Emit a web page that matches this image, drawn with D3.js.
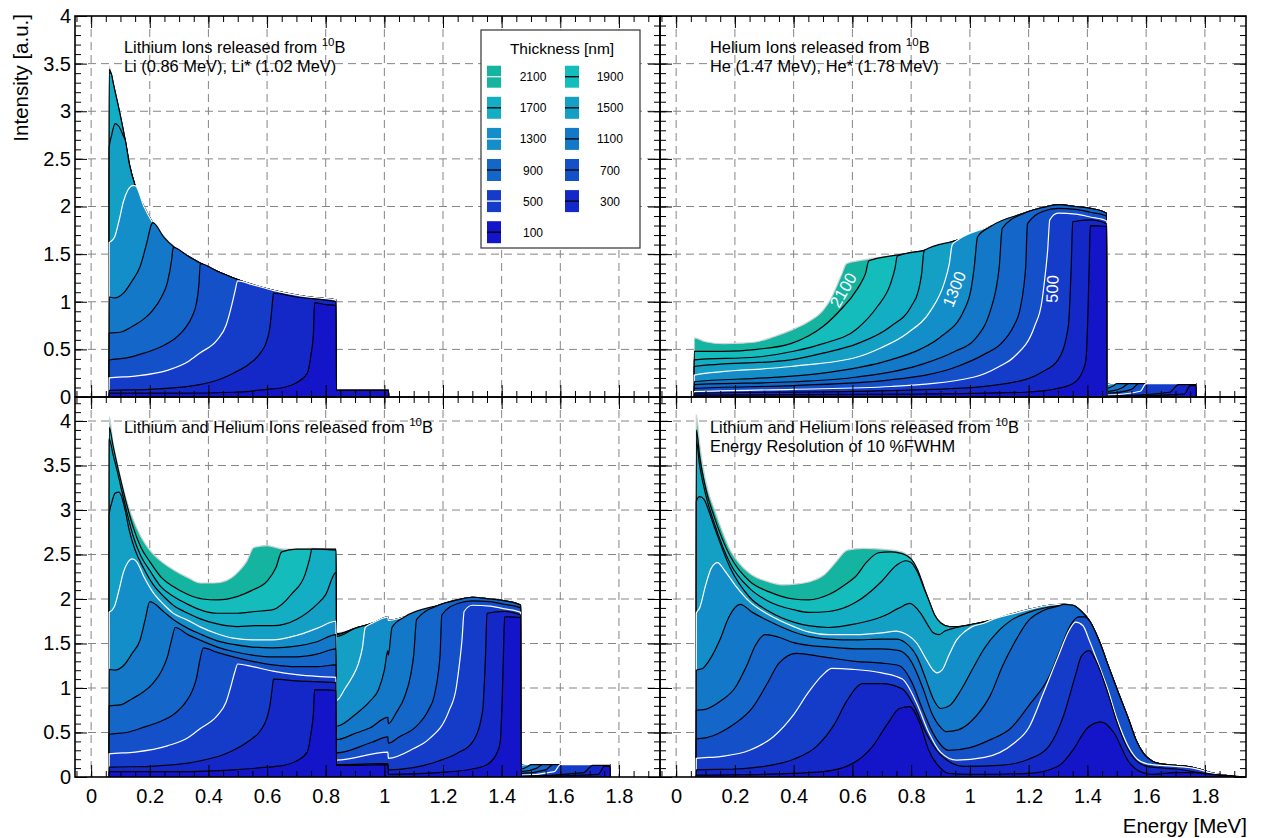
<!DOCTYPE html>
<html><head><meta charset="utf-8">
<script src="https://cdn.jsdelivr.net/npm/d3@7"></script>
<style>body{margin:0;background:#fff}svg{display:block}text{font-family:"Liberation Sans",Arial,Helvetica,sans-serif}</style>
</head><body><svg id="c" width="1264" height="838"></svg>
<script>
// ---------- categories / ticks ----------
const thickness = [2100,1900,1700,1500,1300,1100,900,700,500,300,100];
const fillColors = ["#14b4a0","#14bcbc","#14aec4","#149fc4","#148ec8","#1478c8","#1466c8","#1450c8","#143cc8","#1428c8","#1414c8"];
const lineColors = ["#d2d2d2","#000","#000","#000","#fff","#000","#000","#000","#fff","#000","#000"];
const xTicks = [0,0.2,0.4,0.6,0.8,1,1.2,1.4,1.6,1.8];
const yTicks = [0,0.5,1,1.5,2,2.5,3,3.5,4];

// ---------- Panel 1: Lithium ions ----------
const liEnvelope = [[0.0615,3.47],[0.068,3.40],[0.075,3.30],[0.088,3.12],[0.10,2.95],[0.116,2.70],[0.13,2.45],[0.15,2.22],[0.18,2.0],[0.21,1.83],[0.25,1.67],[0.28,1.58],[0.33,1.48],[0.37,1.41],[0.43,1.32],[0.485,1.25],[0.55,1.18],[0.62,1.12],[0.7,1.07],[0.77,1.04],[0.835,1.02]];
const liRise = [
 [],
 [[0.0615,3.44]],
 [[0.0615,3.40]],
 [[0.0615,2.62],[0.07,2.75],[0.082,2.87],[0.095,2.84],[0.11,2.74]],
 [[0.0615,1.62],[0.07,1.64],[0.08,1.68],[0.095,1.85],[0.11,2.05],[0.125,2.17],[0.143,2.22]],
 [[0.0615,1.05],[0.08,1.04],[0.11,1.09],[0.14,1.22],[0.167,1.37],[0.19,1.62],[0.207,1.82]],
 [[0.0615,0.67],[0.1,0.68],[0.14,0.74],[0.18,0.82],[0.21,0.91],[0.24,1.05],[0.26,1.2],[0.275,1.45],[0.28,1.57]],
 [[0.0615,0.39],[0.12,0.41],[0.18,0.46],[0.24,0.53],[0.28,0.6],[0.32,0.72],[0.345,0.85],[0.36,1.0],[0.368,1.2],[0.372,1.4]],
 [[0.0615,0.2],[0.15,0.22],[0.26,0.28],[0.33,0.37],[0.37,0.46],[0.43,0.6],[0.46,0.75],[0.475,0.91],[0.49,1.1],[0.5,1.22]],
 [[0.0615,0.07],[0.2,0.08],[0.37,0.13],[0.45,0.2],[0.485,0.25],[0.54,0.35],[0.577,0.46],[0.6,0.6],[0.61,0.74],[0.617,0.95],[0.622,1.09],[0.7,1.05],[0.835,1.0]],
 [[0.0615,0.04],[0.3,0.04],[0.485,0.05],[0.6,0.08],[0.655,0.1],[0.7,0.15],[0.737,0.25],[0.75,0.45],[0.758,0.67],[0.762,0.99],[0.8,0.97],[0.835,0.96]]
];
const liStar = [[0.8365,0.07],[1.014,0.07]];

// ---------- Panel 2: Helium ions ----------
const heEnvelope = [[0.0615,0.62],[0.1,0.58],[0.16,0.56],[0.22,0.565],[0.275,0.58],[0.33,0.63],[0.39,0.70],[0.45,0.79],[0.5,0.91],[0.53,1.05],[0.55,1.19],[0.565,1.3],[0.58,1.40],[0.64,1.44],[0.75,1.49],[0.845,1.54],[0.96,1.65],[1.07,1.79],[1.185,1.93],[1.25,1.99],[1.30,2.02],[1.36,2.0],[1.41,1.98],[1.465,1.93]];
const heRise = [
 [],
 [[0.0615,0.48],[0.16,0.48],[0.275,0.50],[0.39,0.56],[0.45,0.64],[0.5,0.74],[0.57,0.95],[0.6,1.06],[0.628,1.19],[0.645,1.3],[0.656,1.43]],
 [[0.0615,0.39],[0.275,0.42],[0.4,0.48],[0.5,0.56],[0.617,0.72],[0.685,0.95],[0.73,1.19],[0.745,1.35],[0.753,1.48]],
 [[0.0615,0.32],[0.39,0.39],[0.5,0.46],[0.617,0.56],[0.73,0.74],[0.8,0.95],[0.825,1.12],[0.836,1.3],[0.843,1.52]],
 [[0.0615,0.23],[0.39,0.32],[0.617,0.42],[0.7,0.52],[0.787,0.67],[0.867,0.91],[0.912,1.19],[0.93,1.4],[0.94,1.60]],
 [[0.0615,0.16],[0.3,0.2],[0.5,0.25],[0.73,0.39],[0.83,0.5],[0.9,0.63],[0.98,0.91],[1.005,1.15],[1.015,1.37],[1.026,1.68]],
 [[0.0615,0.13],[0.4,0.16],[0.617,0.21],[0.844,0.35],[0.95,0.48],[1.015,0.60],[1.07,0.91],[1.09,1.15],[1.10,1.37],[1.11,1.77]],
 [[0.0615,0.09],[0.4,0.12],[0.73,0.18],[0.957,0.32],[1.05,0.45],[1.106,0.56],[1.15,0.75],[1.17,0.91],[1.185,1.2],[1.19,1.37],[1.196,1.82],[1.25,1.95],[1.30,1.98],[1.36,1.97],[1.41,1.94],[1.465,1.9]],
 [[0.0615,0.056],[0.4,0.08],[0.73,0.11],[1.015,0.21],[1.1,0.32],[1.15,0.42],[1.22,0.74],[1.245,1.0],[1.253,1.19],[1.265,1.55],[1.272,1.86],[1.30,1.93],[1.36,1.92],[1.41,1.89],[1.465,1.85]],
 [[0.0615,0.04],[0.6,0.06],[0.957,0.09],[1.185,0.18],[1.25,0.27],[1.30,0.39],[1.335,0.74],[1.345,1.37],[1.35,1.84],[1.41,1.86],[1.465,1.82]],
 [[0.0615,0.02],[0.8,0.03],[1.185,0.05],[1.3,0.09],[1.355,0.15],[1.385,0.28],[1.395,0.39],[1.402,0.9],[1.406,1.37],[1.41,1.80],[1.465,1.79]]
];
const heStar = [
 [[1.4665,0.14],[1.77,0.14]],
 [[1.4665,0.14],[1.77,0.14]],
 [[1.4665,0.14],[1.77,0.14]],
 [[1.4665,0.14],[1.77,0.14]],
 [[1.4665,0.13],[1.48,0.14],[1.77,0.14]],
 [[1.4665,0.09],[1.49,0.12],[1.5,0.14],[1.77,0.14]],
 [[1.4665,0.06],[1.52,0.1],[1.54,0.14],[1.77,0.14]],
 [[1.4665,0.04],[1.55,0.08],[1.575,0.14],[1.77,0.14]],
 [[1.4665,0.02],[1.58,0.06],[1.6,0.14],[1.77,0.14]],
 [[1.4665,0.01],[1.68,0.05],[1.71,0.13],[1.77,0.13]],
 [[1.4665,0.005],[1.73,0.03],[1.75,0.12],[1.77,0.12]]
];

// ---------- Panel 3: Lithium + Helium ----------
const sumLeft = [
 [[0.0615,4.05],[0.075,3.75],[0.088,3.55],[0.10,3.37],[0.12,3.12],[0.144,2.89],[0.17,2.7],[0.2,2.55],[0.24,2.42],[0.28,2.33],[0.33,2.24],[0.372,2.18],[0.42,2.18],[0.463,2.21],[0.5,2.3],[0.53,2.42],[0.555,2.58],[0.6,2.6],[0.656,2.56],[0.75,2.57],[0.835,2.56]],
 [[0.0615,3.93],[0.075,3.72],[0.088,3.52],[0.10,3.35],[0.12,3.08],[0.144,2.8],[0.17,2.58],[0.2,2.42],[0.24,2.24],[0.28,2.14],[0.33,2.05],[0.38,2.0],[0.43,1.99],[0.5,2.03],[0.55,2.1],[0.6,2.2],[0.63,2.35],[0.65,2.53],[0.7,2.56],[0.835,2.56]],
 [[0.0615,3.8],[0.075,3.62],[0.088,3.45],[0.10,3.28],[0.12,3.0],[0.144,2.7],[0.17,2.48],[0.2,2.32],[0.24,2.13],[0.28,2.03],[0.33,1.94],[0.38,1.87],[0.43,1.84],[0.5,1.84],[0.56,1.86],[0.62,1.88],[0.685,2.06],[0.73,2.28],[0.745,2.45],[0.753,2.56],[0.835,2.55]],
 [[0.0615,2.95],[0.07,3.08],[0.082,3.19],[0.095,3.2],[0.116,3.0],[0.13,2.77],[0.15,2.55],[0.18,2.34],[0.21,2.17],[0.25,2.02],[0.28,1.93],[0.33,1.84],[0.37,1.78],[0.43,1.72],[0.5,1.69],[0.56,1.7],[0.62,1.7],[0.7,1.77],[0.77,1.94],[0.8,2.05],[0.835,2.3]],
 [[0.0615,1.85],[0.07,1.87],[0.08,1.92],[0.095,2.1],[0.11,2.3],[0.125,2.41],[0.14,2.45],[0.155,2.42],[0.18,2.25],[0.21,2.08],[0.25,1.93],[0.28,1.84],[0.33,1.76],[0.37,1.69],[0.43,1.61],[0.485,1.56],[0.55,1.54],[0.62,1.54],[0.7,1.59],[0.77,1.67],[0.835,1.75]],
 [[0.0615,1.21],[0.08,1.2],[0.11,1.25],[0.14,1.39],[0.167,1.54],[0.185,1.78],[0.2,1.97],[0.25,1.85],[0.28,1.77],[0.33,1.67],[0.37,1.61],[0.43,1.53],[0.485,1.49],[0.55,1.46],[0.62,1.45],[0.7,1.47],[0.77,1.52],[0.835,1.6]],
 [[0.0615,0.8],[0.1,0.81],[0.14,0.88],[0.18,0.96],[0.21,1.05],[0.24,1.19],[0.26,1.35],[0.275,1.55],[0.287,1.68],[0.33,1.6],[0.37,1.54],[0.43,1.46],[0.485,1.41],[0.55,1.37],[0.62,1.35],[0.7,1.35],[0.77,1.38],[0.835,1.44]],
 [[0.0615,0.48],[0.12,0.5],[0.18,0.56],[0.24,0.63],[0.28,0.7],[0.32,0.83],[0.345,0.97],[0.36,1.12],[0.37,1.3],[0.383,1.45],[0.43,1.4],[0.485,1.35],[0.55,1.3],[0.62,1.26],[0.7,1.24],[0.77,1.24],[0.835,1.26]],
 [[0.0615,0.26],[0.15,0.28],[0.26,0.35],[0.33,0.44],[0.37,0.54],[0.43,0.69],[0.46,0.84],[0.475,1.0],[0.49,1.18],[0.5,1.27],[0.55,1.24],[0.62,1.19],[0.7,1.15],[0.77,1.13],[0.835,1.12]],
 [[0.0615,0.11],[0.2,0.12],[0.37,0.18],[0.45,0.25],[0.485,0.3],[0.54,0.41],[0.577,0.52],[0.6,0.67],[0.61,0.81],[0.617,0.98],[0.622,1.1],[0.7,1.08],[0.835,1.06]],
 [[0.0615,0.06],[0.3,0.06],[0.485,0.08],[0.6,0.11],[0.655,0.13],[0.7,0.18],[0.737,0.28],[0.75,0.5],[0.758,0.72],[0.762,0.98],[0.8,0.98],[0.835,0.97]]
];
const sumRightEnvelope = [[0.8365,1.62],[0.9,1.67],[0.96,1.73],[1.0,1.79],[1.012,1.8],[1.0135,1.76],[1.07,1.80],[1.185,1.93],[1.25,1.99],[1.30,2.02],[1.36,2.0],[1.41,1.98],[1.465,1.93]];
const sumRightRise = [
 [],
 [[0.8365,1.61]],
 [[0.8365,1.6]],
 [[0.8365,1.58]],
 [[0.8365,0.86],[0.867,1.0],[0.89,1.12],[0.912,1.28],[0.925,1.45],[0.935,1.68]],
 [[0.8365,0.57],[0.9,0.7],[0.95,0.85],[0.98,0.98],[1.0,1.2],[1.012,1.42],[1.0135,1.37],[1.026,1.68]],
 [[0.8365,0.42],[0.9,0.49],[0.95,0.55],[1.012,0.67],[1.0135,0.6],[1.04,0.72],[1.07,0.91],[1.09,1.15],[1.10,1.37],[1.11,1.77]],
 [[0.8365,0.27],[0.957,0.39],[1.012,0.45],[1.0135,0.38],[1.05,0.45],[1.106,0.56],[1.15,0.75],[1.17,0.91],[1.185,1.2],[1.19,1.37],[1.196,1.82],[1.25,1.95],[1.30,1.98],[1.36,1.97],[1.41,1.94],[1.465,1.9]],
 [[0.8365,0.19],[1.012,0.28],[1.0135,0.21],[1.1,0.32],[1.15,0.42],[1.22,0.74],[1.245,1.0],[1.253,1.19],[1.265,1.55],[1.272,1.86],[1.30,1.93],[1.36,1.92],[1.41,1.89],[1.465,1.85]],
 [[0.8365,0.14],[1.012,0.15],[1.0135,0.08],[1.185,0.18],[1.25,0.27],[1.30,0.39],[1.335,0.74],[1.345,1.37],[1.35,1.84],[1.41,1.86],[1.465,1.82]],
 [[0.8365,0.13],[0.9,0.13],[1.012,0.14],[1.0135,0.03],[1.185,0.05],[1.3,0.09],[1.355,0.15],[1.385,0.28],[1.395,0.39],[1.402,0.9],[1.406,1.37],[1.41,1.80],[1.465,1.79]]
];

// ---------- Panel 4: 10 % FWHM resolution ----------
const resEnvelope = [[0.0685,4.07],[0.08,3.75],[0.091,3.49],[0.11,3.2],[0.131,3.0],[0.155,2.78],[0.184,2.55],[0.215,2.4],[0.25,2.29],[0.317,2.19],[0.36,2.16],[0.41,2.17],[0.46,2.2],[0.503,2.27],[0.54,2.4],[0.583,2.55],[0.636,2.57],[0.7,2.56],[0.769,2.53],[0.8,2.45],[0.822,2.33],[0.845,2.12],[0.862,1.97],[0.88,1.82],[0.901,1.73],[0.93,1.69],[0.955,1.69],[1.0,1.71],[1.07,1.76],[1.14,1.83],[1.2,1.88],[1.27,1.93],[1.32,1.94],[1.35,1.93],[1.38,1.86],[1.406,1.76],[1.44,1.53],[1.472,1.24],[1.505,0.95],[1.539,0.66],[1.565,0.42],[1.592,0.26],[1.62,0.18],[1.645,0.15],[1.7,0.13],[1.738,0.12],[1.79,0.08],[1.831,0.04],[1.88,0.015],[1.935,0.0]];
const resRise = [
 [],
 [[0.0685,3.9],[0.08,3.6],[0.1,3.25],[0.13,2.92],[0.184,2.48],[0.25,2.2],[0.317,2.08],[0.4,2.0],[0.45,1.99],[0.52,2.05],[0.583,2.18],[0.61,2.25],[0.65,2.42],[0.689,2.52],[0.73,2.53],[0.769,2.51]],
 [[0.0685,3.78],[0.08,3.5],[0.1,3.18],[0.13,2.85],[0.184,2.4],[0.25,2.12],[0.317,1.97],[0.4,1.88],[0.45,1.85],[0.52,1.86],[0.61,1.96],[0.7,2.2],[0.75,2.38],[0.782,2.43],[0.8,2.41],[0.822,2.3],[0.845,2.11]],
 [[0.0685,3.1],[0.08,3.15],[0.095,3.12],[0.11,3.0],[0.131,2.8],[0.184,2.35],[0.25,2.02],[0.317,1.86],[0.4,1.74],[0.45,1.7],[0.52,1.68],[0.61,1.72],[0.7,1.8],[0.76,1.9],[0.795,1.95],[0.83,1.85],[0.86,1.69],[0.875,1.62],[0.895,1.6],[0.915,1.64],[0.955,1.68]],
 [[0.0685,1.84],[0.08,1.9],[0.1,2.15],[0.12,2.35],[0.141,2.41],[0.165,2.32],[0.2,2.16],[0.25,1.97],[0.317,1.82],[0.4,1.69],[0.45,1.63],[0.52,1.6],[0.61,1.6],[0.7,1.62],[0.75,1.64],[0.78,1.61],[0.82,1.5],[0.85,1.33],[0.875,1.2],[0.888,1.17],[0.905,1.2],[0.93,1.38],[0.955,1.54],[0.985,1.64],[1.008,1.69],[1.05,1.73]],
 [[0.0685,1.2],[0.09,1.22],[0.12,1.35],[0.15,1.55],[0.18,1.8],[0.218,1.94],[0.26,1.85],[0.317,1.75],[0.4,1.63],[0.45,1.58],[0.52,1.55],[0.61,1.54],[0.7,1.55],[0.75,1.55],[0.78,1.51],[0.82,1.35],[0.85,1.1],[0.875,0.88],[0.901,0.77],[0.93,0.8],[0.97,0.98],[1.01,1.22],[1.05,1.45],[1.1,1.65],[1.14,1.76],[1.2,1.85],[1.27,1.91],[1.32,1.93]],
 [[0.0685,0.75],[0.1,0.76],[0.15,0.85],[0.2,1.0],[0.24,1.25],[0.27,1.48],[0.303,1.6],[0.35,1.57],[0.4,1.51],[0.45,1.48],[0.52,1.46],[0.61,1.44],[0.7,1.44],[0.76,1.42],[0.8,1.3],[0.84,1.0],[0.87,0.72],[0.9,0.56],[0.92,0.51],[0.96,0.53],[1.02,0.68],[1.07,0.92],[1.11,1.24],[1.15,1.5],[1.2,1.76],[1.25,1.87],[1.3,1.92]],
 [[0.0685,0.43],[0.1,0.44],[0.15,0.5],[0.2,0.6],[0.26,0.78],[0.31,1.05],[0.35,1.28],[0.41,1.39],[0.5,1.35],[0.61,1.3],[0.7,1.28],[0.76,1.25],[0.8,1.08],[0.84,0.75],[0.875,0.49],[0.928,0.30],[1.0,0.33],[1.07,0.42],[1.14,0.55],[1.2,0.8],[1.27,1.13],[1.31,1.45],[1.34,1.69],[1.37,1.8],[1.39,1.8]],
 [[0.0685,0.21],[0.15,0.23],[0.25,0.3],[0.33,0.45],[0.4,0.7],[0.45,0.95],[0.5,1.15],[0.53,1.22],[0.6,1.21],[0.7,1.17],[0.77,1.1],[0.82,0.82],[0.86,0.5],[0.9,0.28],[0.955,0.19],[1.05,0.22],[1.15,0.38],[1.2,0.55],[1.25,0.94],[1.3,1.35],[1.34,1.66],[1.36,1.74],[1.385,1.7],[1.406,1.54],[1.44,1.25],[1.47,0.98],[1.5,0.66],[1.54,0.34],[1.57,0.2],[1.6,0.15],[1.65,0.13],[1.7,0.12],[1.76,0.1],[1.83,0.04],[1.9,0.01]],
 [[0.0685,0.08],[0.2,0.09],[0.3,0.12],[0.4,0.2],[0.48,0.35],[0.54,0.6],[0.58,0.85],[0.636,1.05],[0.7,1.05],[0.77,0.99],[0.81,0.8],[0.85,0.5],[0.9,0.25],[0.98,0.12],[1.1,0.13],[1.2,0.2],[1.27,0.35],[1.32,0.7],[1.36,1.15],[1.38,1.36],[1.406,1.42],[1.43,1.3],[1.47,0.94],[1.5,0.62],[1.54,0.3],[1.58,0.15],[1.62,0.11],[1.7,0.09],[1.8,0.04],[1.9,0.01]],
 [[0.0685,0.02],[0.3,0.03],[0.5,0.06],[0.6,0.15],[0.67,0.35],[0.72,0.6],[0.76,0.77],[0.795,0.79],[0.83,0.6],[0.86,0.3],[0.9,0.1],[0.928,0.04],[1.0,0.03],[1.2,0.04],[1.3,0.12],[1.35,0.3],[1.4,0.55],[1.446,0.62],[1.49,0.5],[1.539,0.18],[1.58,0.06],[1.62,0.03],[1.7,0.05],[1.75,0.05],[1.85,0.02]]
];

// ---------- assembly helpers ----------
function withEnvelope(rise, env) {
  const last = rise.length ? rise[rise.length - 1][0] : -Infinity;
  return rise.concat(env.filter(p => p[0] > last));
}
function closed(pts) {
  return [[pts[0][0] - 0.0005, 0], ...pts, [pts[pts.length - 1][0] + 0.0005, 0]];
}
const liSeries = liRise.map(r => closed([...withEnvelope(r, liEnvelope), ...liStar]));
const heSeries = heRise.map((r, i) => closed([...withEnvelope(r, heEnvelope), ...heStar[i]]));
const sumSeries = sumLeft.map((l, i) => closed([...l, ...withEnvelope(sumRightRise[i], sumRightEnvelope), ...heStar[i]]));
const resSeries = resRise.map(r => closed(withEnvelope(r, resEnvelope)));

// ---------- drawing ----------
const FONT = '"Liberation Sans", Arial, Helvetica, sans-serif';
const svg = d3.select("#c");
const defs = svg.append("defs");
const panels = [
  {x0:75, x1:660, y0:16, y1:397, ymax:4, series:liSeries, showX:false, showY:true},
  {x0:660, x1:1246, y0:16, y1:397, ymax:4, series:heSeries, showX:false, showY:false},
  {x0:75, x1:660, y0:397, y1:777, ymax:4.27, series:sumSeries, showX:true, showY:true},
  {x0:660, x1:1246, y0:397, y1:777, ymax:4.27, series:resSeries, showX:true, showY:false}
];
const fmt = d3.format("~g");
const xMinor = d3.range(-1, 40).map(k => k * 0.05).filter(v => v > -0.055 && v < 1.94);

panels.forEach((p, pi) => {
  const x = d3.scaleLinear().domain([-0.055, 1.94]).range([p.x0, p.x1]);
  const y = d3.scaleLinear().domain([0, p.ymax]).range([p.y1, p.y0]);
  const yMinor = d3.range(0, Math.floor(p.ymax * 10) + 1).map(k => k / 10);
  const g = svg.append("g");

  // grid
  g.append("g").selectAll("line").data(xTicks).join("line")
    .attr("x1", d => x(d)).attr("x2", d => x(d)).attr("y1", p.y0).attr("y2", p.y1)
    .attr("stroke", "#858585").attr("stroke-width", 1).attr("stroke-dasharray", "8,5");
  g.append("g").selectAll("line").data(yTicks.filter(v => v > 0 && y(v) > p.y0 + 2)).join("line")
    .attr("x1", p.x0).attr("x2", p.x1).attr("y1", d => y(d)).attr("y2", d => y(d))
    .attr("stroke", "#858585").attr("stroke-width", 1).attr("stroke-dasharray", "8,5");

  // data
  const cid = "clip" + pi;
  defs.append("clipPath").attr("id", cid).append("rect")
    .attr("x", p.x0).attr("y", p.y0).attr("width", p.x1 - p.x0).attr("height", p.y1 - p.y0);
  const dg = g.append("g").attr("clip-path", `url(#${cid})`);
  const area = d3.area().x(d => x(d[0])).y0(y(0)).y1(d => y(d[1])).curve(d3.curveMonotoneX);
  const line = d3.line().x(d => x(d[0])).y(d => y(d[1])).curve(d3.curveMonotoneX);
  p.series.forEach((s, i) => {
    dg.append("path").attr("d", area(s)).attr("fill", fillColors[i]);
    dg.append("path").attr("d", line(s)).attr("fill", "none")
      .attr("stroke", lineColors[i]).attr("stroke-width", 1.2).attr("stroke-linejoin", "round");
  });

  // axes (ticks on all sides, inward)
  const styleAxis = sel => {
    sel.select(".domain").remove();
    sel.attr("font-family", FONT).attr("font-size", 20);
    sel.selectAll("line").attr("stroke", "#000").attr("stroke-width", 1);
    sel.selectAll("text").attr("fill", "#000");
  };
  const none = () => "";
  g.append("g").attr("transform", `translate(0,${p.y1})`)
    .call(d3.axisBottom(x).tickValues(xTicks).tickSize(-12).tickPadding(12).tickFormat(p.showX ? fmt : none)).call(styleAxis);
  g.append("g").attr("transform", `translate(0,${p.y1})`)
    .call(d3.axisBottom(x).tickValues(xMinor).tickSize(-6).tickFormat(none)).call(styleAxis);
  g.append("g").attr("transform", `translate(0,${p.y0})`)
    .call(d3.axisTop(x).tickValues(xTicks).tickSize(-12).tickFormat(none)).call(styleAxis);
  g.append("g").attr("transform", `translate(0,${p.y0})`)
    .call(d3.axisTop(x).tickValues(xMinor).tickSize(-6).tickFormat(none)).call(styleAxis);
  g.append("g").attr("transform", `translate(${p.x0},0)`)
    .call(d3.axisLeft(y).tickValues(yTicks).tickSize(-12).tickPadding(4).tickFormat(p.showY ? fmt : none)).call(styleAxis);
  g.append("g").attr("transform", `translate(${p.x0},0)`)
    .call(d3.axisLeft(y).tickValues(yMinor).tickSize(-6).tickFormat(none)).call(styleAxis);
  g.append("g").attr("transform", `translate(${p.x1},0)`)
    .call(d3.axisRight(y).tickValues(yTicks).tickSize(-12).tickFormat(none)).call(styleAxis);
  g.append("g").attr("transform", `translate(${p.x1},0)`)
    .call(d3.axisRight(y).tickValues(yMinor).tickSize(-6).tickFormat(none)).call(styleAxis);

  g.append("rect").attr("x", p.x0).attr("y", p.y0).attr("width", p.x1 - p.x0).attr("height", p.y1 - p.y0)
    .attr("fill", "none").attr("stroke", "#000").attr("stroke-width", 1.6);
});

// ---------- annotations ----------
function note(x, yb, main, sup, tail) {
  const t = svg.append("text").attr("x", x).attr("y", yb).attr("font-size", 16.4).attr("font-family", FONT).attr("fill", "#000");
  t.append("tspan").text(main);
  if (sup) {
    t.append("tspan").attr("font-size", 11.5).attr("dy", -7).text(sup);
    t.append("tspan").attr("dy", 7).text(tail);
  }
}
note(124, 53, "Lithium Ions released from ", "10", "B");
note(124, 72, "Li (0.86 MeV), Li* (1.02 MeV)");
note(710, 53, "Helium Ions released from ", "10", "B");
note(710, 72, "He (1.47 MeV), He* (1.78 MeV)");
note(124, 433, "Lithium and Helium Ions released from ", "10", "B");
note(710, 433, "Lithium and Helium Ions released from ", "10", "B");
note(710, 452, "Energy Resolution of 10 %FWHM");

// rotated thickness labels in He panel
[["2100", 843, 290, -60], ["1300", 954, 289, -68], ["500", 1052, 289, -88]].forEach(([s, cx, cy, a]) => {
  svg.append("text").attr("transform", `translate(${cx},${cy}) rotate(${a})`)
    .attr("text-anchor", "middle").attr("dominant-baseline", "central")
    .attr("font-size", 16.5).attr("font-family", FONT).attr("fill", "#fff").text(s);
});

// axis titles
svg.append("text").attr("transform", "translate(28,14) rotate(-90)").attr("text-anchor", "end")
  .attr("font-size", 20.5).attr("font-family", FONT).attr("fill", "#000").text("Intensity [a.u.]");
svg.append("text").attr("x", 1247).attr("y", 833).attr("text-anchor", "end")
  .attr("font-size", 20.5).attr("font-family", FONT).attr("fill", "#000").text("Energy [MeV]");

// ---------- legend ----------
const lg = svg.append("g");
lg.append("rect").attr("x", 481).attr("y", 30).attr("width", 159).attr("height", 218)
  .attr("fill", "#fff").attr("stroke", "#333").attr("stroke-width", 1.2);
lg.append("text").attr("x", 562).attr("y", 54).attr("text-anchor", "middle")
  .attr("font-size", 15.5).attr("font-family", FONT).text("Thickness [nm]");
thickness.forEach((t, i) => {
  const row = Math.floor(i / 2), col = i % 2;
  const cy = 76.7 + row * 31.1;
  const sx = col === 0 ? 487 : 565;
  const lx = col === 0 ? 533 : 610;
  lg.append("rect").attr("x", sx).attr("y", cy - 11).attr("width", 14).attr("height", 22).attr("fill", fillColors[i]);
  lg.append("line").attr("x1", sx).attr("x2", sx + 14).attr("y1", cy).attr("y2", cy)
    .attr("stroke", lineColors[i] === "#d2d2d2" ? "#e8e8e8" : lineColors[i]).attr("stroke-width", 1.3);
  lg.append("text").attr("x", lx).attr("y", cy + 4.5).attr("text-anchor", "middle")
    .attr("font-size", 12).attr("font-family", FONT).text(t);
});
</script></body></html>
